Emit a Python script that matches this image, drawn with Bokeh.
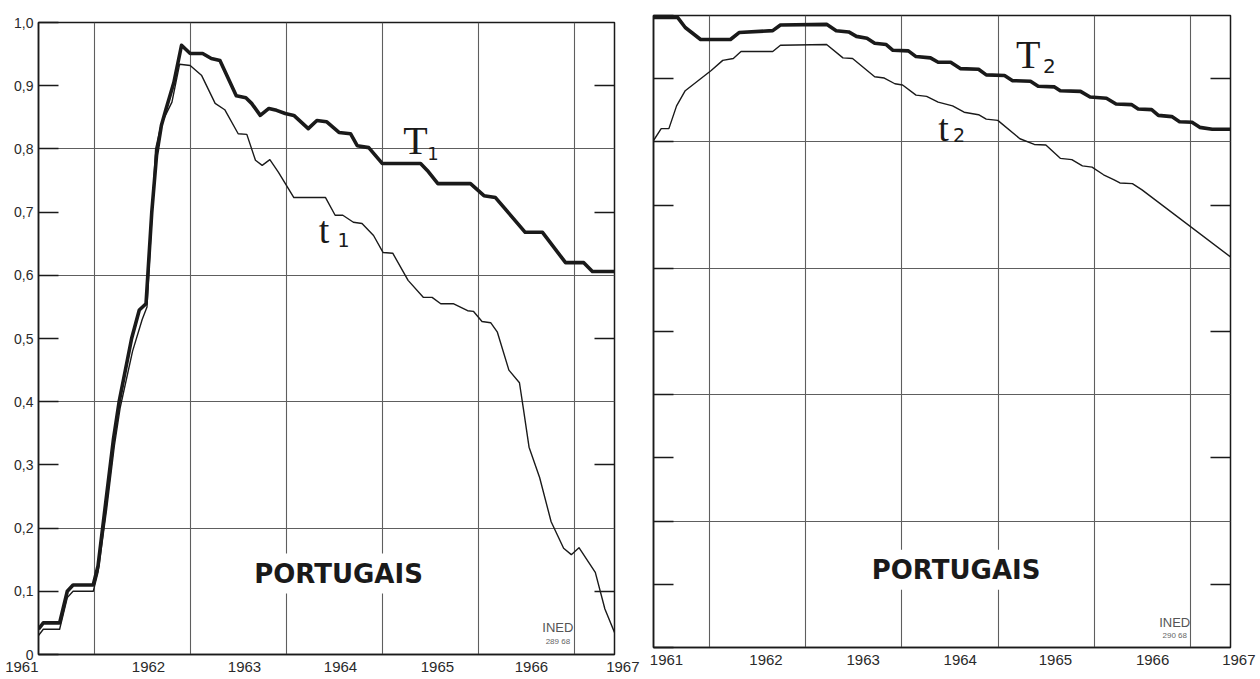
from bokeh.plotting import figure
from bokeh.layouts import row
from bokeh.models import Range1d, FixedTicker, LinearAxis, Label
from bokeh.embed import file_html
from bokeh.resources import INLINE

# ---------------- data ----------------
T1_year = [1961.00, 1961.05, 1961.22, 1961.30, 1961.36, 1961.57, 1961.62, 1961.70, 1961.78, 1961.84,
           1961.97, 1962.05, 1962.12, 1962.18, 1962.23, 1962.28, 1962.33, 1962.41, 1962.49, 1962.58,
           1962.71, 1962.80, 1962.89, 1963.06, 1963.16, 1963.22, 1963.31, 1963.40, 1963.48, 1963.57,
           1963.66, 1963.81, 1963.90, 1964.00, 1964.13, 1964.25, 1964.32, 1964.44, 1964.58, 1964.98,
           1965.05, 1965.16, 1965.50, 1965.64, 1965.76, 1966.07, 1966.25, 1966.49, 1966.68, 1966.77,
           1967.00]
T1_val = [0.040, 0.050, 0.050, 0.100, 0.110, 0.110, 0.140, 0.240, 0.340, 0.400,
          0.500, 0.545, 0.555, 0.700, 0.790, 0.837, 0.864, 0.905, 0.964, 0.951,
          0.951, 0.943, 0.940, 0.884, 0.881, 0.872, 0.853, 0.864, 0.861, 0.856,
          0.853, 0.832, 0.845, 0.843, 0.826, 0.824, 0.805, 0.802, 0.777, 0.777,
          0.766, 0.745, 0.745, 0.726, 0.723, 0.668, 0.668, 0.620, 0.620, 0.606,
          0.606]

t1_year = [1961.00, 1961.05, 1961.22, 1961.30, 1961.36, 1961.57, 1961.62, 1961.71, 1961.79, 1961.85,
           1961.98, 1962.08, 1962.13, 1962.18, 1962.22, 1962.28, 1962.39, 1962.47, 1962.58, 1962.70,
           1962.84, 1962.94, 1963.08, 1963.17, 1963.26, 1963.33, 1963.41, 1963.50, 1963.66, 1963.99,
           1964.09, 1964.17, 1964.28, 1964.37, 1964.49, 1964.59, 1964.69, 1964.85, 1965.01, 1965.10,
           1965.19, 1965.32, 1965.47, 1965.53, 1965.62, 1965.71, 1965.78, 1965.90, 1966.01, 1966.05,
           1966.11, 1966.22, 1966.34, 1966.47, 1966.55, 1966.63, 1966.80, 1966.90, 1967.00]
t1_val = [0.030, 0.040, 0.040, 0.090, 0.100, 0.100, 0.130, 0.230, 0.330, 0.390,
          0.480, 0.530, 0.550, 0.690, 0.800, 0.840, 0.874, 0.934, 0.932, 0.916,
          0.872, 0.862, 0.824, 0.823, 0.782, 0.774, 0.783, 0.763, 0.723, 0.723,
          0.695, 0.695, 0.684, 0.682, 0.663, 0.636, 0.635, 0.592, 0.565, 0.565,
          0.555, 0.555, 0.544, 0.543, 0.527, 0.525, 0.510, 0.450, 0.430, 0.390,
          0.328, 0.280, 0.210, 0.168, 0.158, 0.169, 0.130, 0.072, 0.035]

T2_year = [1961.00, 1961.25, 1961.33, 1961.49, 1961.80, 1961.89, 1962.24, 1962.32, 1962.80, 1962.90,
           1963.03, 1963.11, 1963.22, 1963.30, 1963.42, 1963.49, 1963.65, 1963.73, 1963.88, 1963.96,
           1964.09, 1964.19, 1964.38, 1964.46, 1964.65, 1964.73, 1964.92, 1965.00, 1965.17, 1965.23,
           1965.44, 1965.54, 1965.71, 1965.81, 1965.97, 1966.04, 1966.18, 1966.25, 1966.39, 1966.47,
           1966.60, 1966.68, 1966.81, 1967.00]
T2_val = [0.997, 0.997, 0.981, 0.962, 0.962, 0.973, 0.976, 0.985, 0.986, 0.976,
          0.974, 0.967, 0.964, 0.956, 0.954, 0.945, 0.944, 0.935, 0.933, 0.926,
          0.926, 0.916, 0.915, 0.906, 0.905, 0.897, 0.896, 0.888, 0.887, 0.881,
          0.880, 0.871, 0.869, 0.860, 0.859, 0.852, 0.851, 0.842, 0.840, 0.832,
          0.831, 0.823, 0.820, 0.820]

t2_year = [1961.00, 1961.08, 1961.16, 1961.24, 1961.33, 1961.49, 1961.60, 1961.72, 1961.83, 1961.91,
           1962.24, 1962.32, 1962.80, 1962.97, 1963.07, 1963.30, 1963.40, 1963.51, 1963.59, 1963.73,
           1963.84, 1963.96, 1964.11, 1964.23, 1964.38, 1964.46, 1964.58, 1964.81, 1964.96, 1965.08,
           1965.23, 1965.35, 1965.46, 1965.56, 1965.68, 1965.79, 1965.85, 1965.98, 1966.08, 1967.00]
t2_val = [0.802, 0.821, 0.821, 0.857, 0.881, 0.900, 0.913, 0.929, 0.932, 0.943,
          0.943, 0.953, 0.954, 0.933, 0.932, 0.903, 0.901, 0.892, 0.890, 0.874,
          0.872, 0.863, 0.857, 0.847, 0.843, 0.836, 0.834, 0.805, 0.796, 0.795,
          0.774, 0.772, 0.762, 0.760, 0.748, 0.740, 0.735, 0.734, 0.724, 0.618]

assert len(T1_year) == len(T1_val)
assert len(t1_year) == len(t1_val)
assert len(T2_year) == len(T2_val)
assert len(t2_year) == len(t2_val)

# x tick labels: printed under each year; the end labels sit at the frame edges and
# are nudged outward with non-breaking spaces (labels are centred on their ticks)
NB = "\u00a0"
YEARS = ["1961", "1962", "1963", "1964", "1965", "1966", "1967"]
LEFT_TICK_POS = [1961.0, 1962.146, 1963.146, 1964.146, 1965.156, 1966.135, 1967.0]
LEFT_TICK_TXT = [YEARS[0] + NB * 8] + YEARS[1:6] + [NB * 4 + YEARS[6]]
RIGHT_TICK_POS = [1961.135, 1962.17, 1963.18, 1964.19, 1965.18, 1966.19, 1967.0]
RIGHT_TICK_TXT = YEARS[:6] + [NB * 4 + YEARS[6]]

GRID_X = [1961.583, 1962.583, 1963.583, 1964.583, 1965.583, 1966.583]
GRID_Y = [0.2, 0.4, 0.6, 0.8]
Y_TICKS = [0.0, 0.1, 0.2, 0.3, 0.4, 0.5, 0.6, 0.7, 0.8, 0.9, 1.0]
Y_TICK_LABELS = ["0", "0,1", "0,2", "0,3", "0,4", "0,5", "0,6", "0,7", "0,8", "0,9", "1,0"]
ODD_TICKS = [0.1, 0.3, 0.5, 0.7, 0.9]

INK = "#1a1a1a"
GRID = "#5e5e5e"
LABEL_INK = "#2a2a2a"
XFONT = "15px"


def make_panel(fw, b_left, b_right, tick_pos, tick_txt, show_ylabels):
    p = figure(frame_width=fw, frame_height=632,
               x_range=Range1d(1961, 1967), y_range=Range1d(0, 1.0),
               output_backend="svg", toolbar_location=None,
               min_border_left=b_left, min_border_right=b_right,
               min_border_top=15, min_border_bottom=22,
               background_fill_color="white", border_fill_color="white",
               outline_line_color=INK, outline_line_width=1.5)
    xa = p.xaxis[0]
    xa.ticker = FixedTicker(ticks=tick_pos)
    xa.major_label_overrides = dict(zip(tick_pos, tick_txt))
    xa.major_tick_in = 0
    xa.major_tick_out = 0
    xa.minor_tick_in = 0
    xa.minor_tick_out = 0
    xa.major_label_standoff = 3
    xa.major_label_text_font = "Liberation Sans"
    xa.major_label_text_font_size = XFONT
    xa.major_label_text_color = LABEL_INK
    xa.axis_line_color = INK
    xa.axis_line_width = 1.5

    p.xgrid.ticker = FixedTicker(ticks=GRID_X)
    p.ygrid.ticker = FixedTicker(ticks=GRID_Y)
    for g in (p.xgrid[0], p.ygrid[0]):
        g.grid_line_color = GRID
        g.grid_line_width = 1.1

    ya = p.yaxis[0]
    ya.ticker = FixedTicker(ticks=Y_TICKS)
    ya.major_tick_in = 20
    ya.major_tick_out = 0
    ya.minor_tick_in = 0
    ya.minor_tick_out = 0
    ya.major_tick_line_color = INK
    ya.major_tick_line_width = 1.3
    ya.axis_line_color = INK
    ya.axis_line_width = 1.5
    if show_ylabels:
        ya.major_label_overrides = dict(zip(Y_TICKS, Y_TICK_LABELS))
        ya.major_label_standoff = 5
    else:
        ya.major_label_overrides = {v: "" for v in Y_TICKS}
        ya.major_label_standoff = 0
    ya.major_label_text_font = "Liberation Sans"
    ya.major_label_text_font_size = "14px"
    ya.major_label_text_color = LABEL_INK

    ra = LinearAxis(ticker=FixedTicker(ticks=ODD_TICKS),
                    major_tick_in=20, major_tick_out=0,
                    minor_tick_in=0, minor_tick_out=0,
                    major_tick_line_color=INK, major_tick_line_width=1.3,
                    major_label_overrides={v: "" for v in ODD_TICKS},
                    major_label_standoff=0, axis_line_color=None)
    p.add_layout(ra, "right")
    return p


def txt(p, x, y, text, font, size, align="left", style="normal",
        color=INK, bg=None):
    kw = dict(x=x, y=y, x_units="data", y_units="data", text=text,
              text_font=font, text_font_size=size, text_align=align,
              text_baseline="middle", text_font_style=style, text_color=color)
    if bg is not None:
        kw.update(background_fill_color=bg, padding=5)
    p.add_layout(Label(**kw))


# ---------------- left panel ----------------
p1 = make_panel(576, 38, 26, LEFT_TICK_POS, LEFT_TICK_TXT, True)
p1.margin = (7, 0, 0, 0)
p1.line(T1_year, T1_val, line_width=3.6, line_color=INK, line_join="round")
p1.line(t1_year, t1_val, line_width=1.4, line_color=INK, line_join="round")

txt(p1, 1964.80, 0.813, "T", "Liberation Serif", "40px")
txt(p1, 1965.05, 0.792, "1", "DejaVu Sans", "18px")
txt(p1, 1963.92, 0.671, "t", "Liberation Serif", "38px")
txt(p1, 1964.115, 0.656, "1", "DejaVu Sans", "19px")
txt(p1, 1964.125, 0.128, "PORTUGAIS", "DejaVu Sans", "26px", align="center",
    style="bold", bg="white")
txt(p1, 1966.41, 0.043, "INED", "Liberation Sans", "13px", align="center",
    color="#555555")
txt(p1, 1966.41, 0.021, "289 68", "Liberation Sans", "8px", align="center",
    color="#666666")

# ---------------- right panel ----------------
p2 = make_panel(577, 13, 28, RIGHT_TICK_POS, RIGHT_TICK_TXT, False)
p2.line(T2_year, T2_val, line_width=3.6, line_color=INK, line_join="round")
p2.line(t2_year, t2_val, line_width=1.4, line_color=INK, line_join="round")

txt(p2, 1964.77, 0.938, "T", "Liberation Serif", "40px")
txt(p2, 1965.05, 0.920, "2", "DejaVu Sans", "20px")
txt(p2, 1963.96, 0.822, "t", "Liberation Serif", "38px")
txt(p2, 1964.115, 0.811, "2", "DejaVu Sans", "19px")
txt(p2, 1964.146, 0.123, "PORTUGAIS", "DejaVu Sans", "26px", align="center",
    style="bold", bg="white")
txt(p2, 1966.42, 0.040, "INED", "Liberation Sans", "13px", align="center",
    color="#555555")
txt(p2, 1966.42, 0.019, "290 68", "Liberation Sans", "8px", align="center",
    color="#666666")

layout = row(p1, p2, spacing=0)
open("out.html", "w").write(file_html(layout, INLINE))
